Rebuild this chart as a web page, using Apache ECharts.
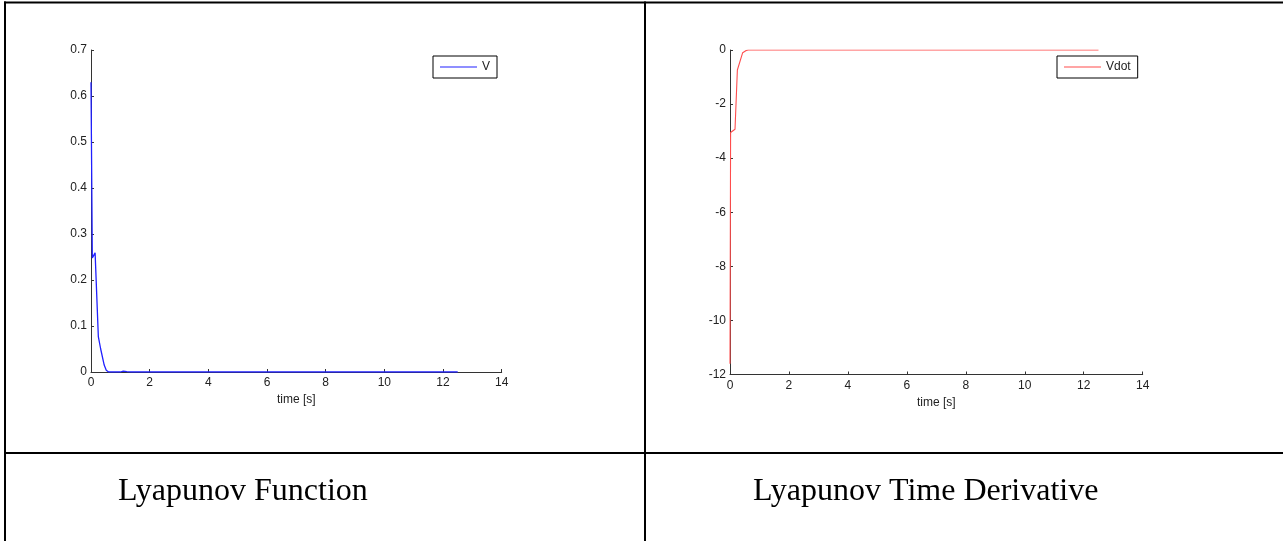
<!DOCTYPE html>
<html>
<head>
<meta charset="utf-8">
<title>Lyapunov</title>
<script src="https://cdn.jsdelivr.net/npm/echarts@6/dist/echarts.min.js"></script>
<style>
  html, body { margin: 0; padding: 0; background: #fff; }
  #main { width: 1283px; height: 541px; }
</style>
</head>
<body>
<div id="main"></div>
<script>
// Lyapunov function V(t)
const timeV = [0, 0.045, 0.14, 0.25, 0.33, 0.45, 0.52, 0.6, 1.0, 1.1, 1.16, 1.22, 1.35, 12.5];
const valuesV = [0.63, 0.248, 0.259, 0.077, 0.05, 0.015, 0.004, 0, 0, 0.002, 0.004, 0.001, 0, 0];

// Time derivative dV/dt
const timeVdot = [0, 0.02, 0.17, 0.25, 0.43, 0.55, 0.62, 12.5];
const valuesVdot = [-11.6, -3.05, -2.93, -0.74, -0.1, -0.02, 0, 0];

// Axis ticks
const timeTicks = { min: 0, max: 14, interval: 2 };
const vTicks = { min: 0, max: 0.7, interval: 0.1 };
const vdotTicks = { min: -12, max: 0, interval: 2 };

const captions = ['Lyapunov Function', 'Lyapunov Time Derivative'];
const seriesNames = ['V', 'Vdot'];

const pairs = (xs, ys) => xs.map((x, i) => [x, ys[i]]);

const axisFont = { fontFamily: 'Liberation Sans, Arial, sans-serif', fontSize: 12, color: '#222' };
const captionFont = { fontFamily: 'Liberation Serif, Times New Roman, serif', fontWeight: 'normal', fontSize: 32, lineHeight: 32, color: '#000' };

function xAxisFor(gridIndex) {
  return {
    type: 'value', gridIndex,
    min: timeTicks.min, max: timeTicks.max, interval: timeTicks.interval,
    name: 'time [s]', nameLocation: 'middle', nameGap: 21,
    nameTextStyle: axisFont,
    axisLine: { show: true, onZero: false, lineStyle: { color: '#333', width: 1 } },
    axisTick: { show: true, inside: true, length: 3, lineStyle: { color: '#333' } },
    axisLabel: Object.assign({ margin: 5 }, axisFont),
    splitLine: { show: false }
  };
}

function yAxisFor(gridIndex, t) {
  return {
    type: 'value', gridIndex,
    min: t.min, max: t.max, interval: t.interval,
    axisLine: { show: true, onZero: false, lineStyle: { color: '#333', width: 1 } },
    axisTick: { show: true, inside: true, length: 3, lineStyle: { color: '#333' } },
    axisLabel: Object.assign({ margin: 4 }, axisFont),
    splitLine: { show: false }
  };
}

function legendFor(name, left) {
  return {
    data: [name], left, top: 56,
    orient: 'horizontal',
    padding: [5, 7, 5, 7],
    borderColor: '#000', borderWidth: 1, borderRadius: 0,
    icon: 'rect',
    itemWidth: 37, itemHeight: 1.2, itemGap: 0,
    textStyle: { fontFamily: 'Liberation Sans, Arial, sans-serif', fontSize: 12, color: '#222' },
    selectedMode: false
  };
}

const chart = echarts.init(document.getElementById('main'), null, { renderer: 'canvas' });

const option = {
  animation: false,
  backgroundColor: '#fff',
  grid: [
    { left: 91, top: 50, width: 410.7, height: 322 },
    { left: 730, top: 50, width: 412.7, height: 324.5 }
  ],
  xAxis: [xAxisFor(0), xAxisFor(1)],
  yAxis: [yAxisFor(0, vTicks), yAxisFor(1, vdotTicks)],
  legend: [legendFor(seriesNames[0], 433), legendFor(seriesNames[1], 1057)],
  title: [
    { text: captions[0], left: 118, top: 476, padding: 0, textStyle: captionFont },
    { text: captions[1], left: 753, top: 476, padding: 0, textStyle: captionFont }
  ],
  series: [
    { name: seriesNames[0], type: 'line', xAxisIndex: 0, yAxisIndex: 0,
      data: pairs(timeV, valuesV), symbol: 'none', showSymbol: false,
      lineStyle: { color: '#2020ff', width: 1.3 }, itemStyle: { color: '#2020ff' } },
    { name: seriesNames[1], type: 'line', xAxisIndex: 1, yAxisIndex: 1,
      data: pairs(timeVdot, valuesVdot), symbol: 'none', showSymbol: false,
      lineStyle: { color: '#ff4d4d', width: 1.1 }, itemStyle: { color: '#ff4d4d' } }
  ],
  graphic: [
    // table rules
    { type: 'rect', shape: { x: 4, y: 1.5, width: 1279, height: 2 }, style: { fill: '#000' }, silent: true },
    { type: 'rect', shape: { x: 4, y: 1.5, width: 2, height: 540 }, style: { fill: '#000' }, silent: true },
    { type: 'rect', shape: { x: 644, y: 1.5, width: 2, height: 540 }, style: { fill: '#000' }, silent: true },
    { type: 'rect', shape: { x: 4, y: 452, width: 1279, height: 2 }, style: { fill: '#000' }, silent: true }
  ]
};

chart.setOption(option);
</script>
</body>
</html>
